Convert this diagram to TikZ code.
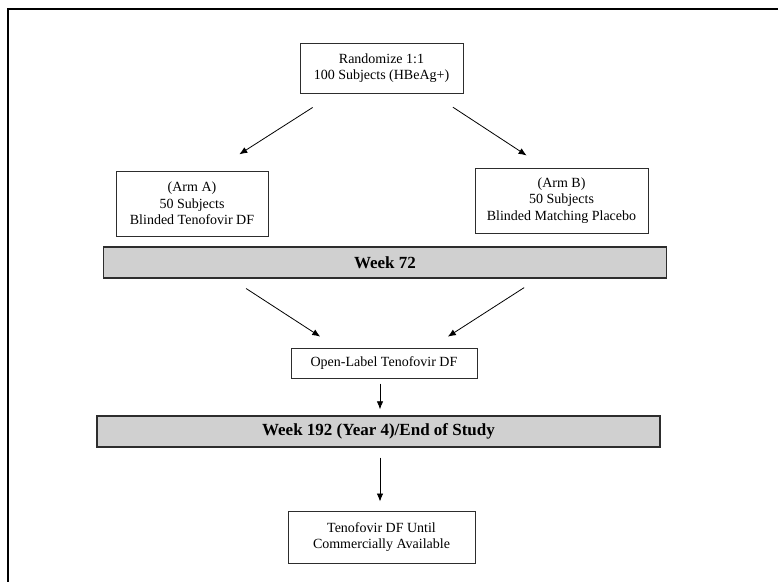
\documentclass[tikz,border=0pt]{standalone}
\usepackage{fontspec}
\setmainfont{Liberation Serif}
\usepackage{xcolor}
\definecolor{BarFill}{RGB}{208,208,208}
\definecolor{BoxLine}{RGB}{45,45,45}
\usepackage{tikz}
\usetikzlibrary{arrows.meta}
\tikzstyle{Box}=[draw=BoxLine,line width=1pt,fill=white,align=center,
inner sep=0pt,font=\fontsize{14}{16.5}\selectfont]
\tikzstyle{Bar}=[draw=BoxLine,line width=1.4pt,fill=BarFill,inner sep=0pt,
minimum width=563,minimum height=31,font=\fontsize{17}{20}\selectfont\bfseries]
\tikzstyle{Edge}=[draw=black,line width=0.8pt,-{Latex[length=8pt,width=6.5pt]}]
\tikzstyle{Frame}=[draw=black,line width=2.2pt]
\begin{document}
\begin{tikzpicture}[x=1pt,y=-1pt]
        \useasboundingbox(0,0)rectangle(778,581);
        \draw[Frame](8,590)--(8,9)--(790,9);
        \node[Box,minimum width=163,minimum height=50](R)at(381.5,68){Randomize 1:1\\100 Subjects (HBeAg+)};
        \node[Box,minimum width=152,minimum height=65](A)at(192,203.5){(Arm A)\\50 Subjects\\Blinded Tenofovir DF};
        \node[Box,minimum width=173,minimum height=65](B)at(561.5,200.5){(Arm B)\\50 Subjects\\Blinded Matching Placebo};
        \node[Bar](W72)at(385,262.5){Week 72};
        \node[Box,minimum width=186,minimum height=30](O)at(384,363){Open-Label Tenofovir DF};
        \node[Bar](W192)at(378.5,431.5){Week 192 (Year 4)/End of Study};
        \node[Box,minimum width=187,minimum height=52](T)at(381.5,537){Tenofovir DF Until\\Commercially Available};
        \draw[Edge,shorten <=26pt,shorten >=30pt]([xshift=-47]R.south)--([xshift=22]A.north);
        \draw[Edge,shorten <=25pt,shorten >=22pt]([xshift=50.5]R.south)--([xshift=-16.5]B.north);
        \draw[Edge,shorten <=18pt,shorten >=20pt]([xshift=-154]W72.south)--([xshift=-47]O.north);
        \draw[Edge,shorten <=16.5pt,shorten >=20pt]([xshift=153]W72.south)--([xshift=47]O.north);
        \draw[Edge,shorten <=5pt,shorten >=6pt]([xshift=-4]O.south)--([xshift=1.5]W192.north);
        \draw[Edge,shorten <=10pt,shorten >=9pt]([xshift=1.5]W192.south)--([xshift=-1.5]T.north);
    \end{tikzpicture}
\end{document}
